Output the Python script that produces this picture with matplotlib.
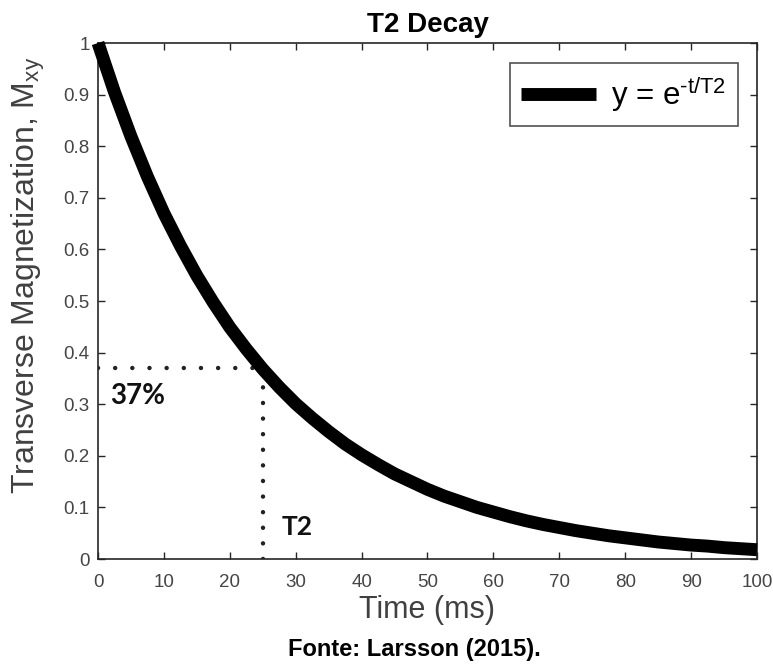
import matplotlib
matplotlib.use("Agg")
import matplotlib.pyplot as plt

# Data
time_ms = [0, 2.5, 5, 7.5, 10, 12.5, 15, 17.5, 20, 22.5, 25, 27.5, 30, 32.5, 35, 37.5,
           40, 42.5, 45, 47.5, 50, 52.5, 55, 57.5, 60, 62.5, 65, 67.5, 70, 72.5, 75,
           77.5, 80, 82.5, 85, 87.5, 90, 92.5, 95, 97.5, 100]
mxy = [1.000, 0.905, 0.819, 0.741, 0.670, 0.607, 0.549, 0.497, 0.449, 0.407, 0.368,
       0.333, 0.301, 0.273, 0.247, 0.223, 0.202, 0.183, 0.165, 0.150, 0.135, 0.122,
       0.111, 0.100, 0.091, 0.082, 0.074, 0.067, 0.061, 0.055, 0.050, 0.045, 0.041,
       0.037, 0.033, 0.030, 0.027, 0.025, 0.022, 0.020, 0.018]
t2_time = 25
t2_level = 0.37
xticks = [0, 10, 20, 30, 40, 50, 60, 70, 80, 90, 100]
yticks = [0, 0.1, 0.2, 0.3, 0.4, 0.5, 0.6, 0.7, 0.8, 0.9, 1]
ytick_labels = ["0", "0.1", "0.2", "0.3", "0.4", "0.5", "0.6", "0.7", "0.8", "0.9", "1"]

plt.rcParams['font.family'] = ['Liberation Sans', 'DejaVu Sans']
plt.rcParams['mathtext.fontset'] = 'custom'
plt.rcParams['mathtext.rm'] = 'Liberation Sans'

fig = plt.figure(figsize=(7.73, 6.64), dpi=100)
ax = fig.add_axes([0.12678, 0.15813, 0.85252, 0.77711])

ax.plot(time_ms, mxy, color='black', lw=9.3, solid_capstyle='butt', solid_joinstyle='round',
        label='y = e$^{\\mathregular{\u2010t/T2}}$', zorder=3, clip_on=False)

ax.plot([0, t2_time], [t2_level, t2_level], linestyle=(0, (0.01, 3.85)), color='#222222',
        lw=3.2, dash_capstyle='round', zorder=2)
ax.plot([t2_time, t2_time], [0, t2_level], linestyle=(0, (0.01, 3.5)), color='#222222',
        lw=3.2, dash_capstyle='round', zorder=2)

ax.text(1.8, 0.316, '37%', fontsize=20, fontweight='bold', family=['Lato', 'DejaVu Sans'],
        ha='left', va='center', color='#111111')
ax.text(27.9, 0.062, 'T2', fontsize=19, fontweight='bold', family=['Lato', 'DejaVu Sans'],
        ha='left', va='center', color='#111111')

ax.set_xlim(0, 100)
ax.set_ylim(0, 1)
ax.set_xticks(xticks)
ax.set_yticks(yticks)
ax.set_yticklabels(ytick_labels)
ax.tick_params(direction='in', length=5, width=1, top=True, right=True, labelsize=13.5,
               labelcolor='#454545', color='#262626')
ax.tick_params(axis='x', pad=11)
ax.tick_params(axis='y', pad=6)
for s in ax.spines.values():
    s.set_color('#262626')
    s.set_linewidth(1.2)

ax.set_xlabel('Time (ms)', fontsize=22, color='#404040')
ax.xaxis.set_label_coords(0.5, -0.0698)
ax.set_ylabel(r'Transverse Magnetization, M$_{\mathregular{xy}}$', fontsize=23,
              color='#404040')
ax.yaxis.set_label_coords(-0.078, 0.55)
ax.set_title('T2 Decay', fontsize=20, fontweight='bold', pad=8)

leg = ax.legend(loc='upper right', fontsize=22.5, frameon=True, fancybox=False,
                handlelength=2.37, handletextpad=0.5, borderpad=0.38, borderaxespad=0,
                bbox_to_anchor=(0.971, 0.961))
leg.get_frame().set_edgecolor('#262626')
leg.get_frame().set_linewidth(1.2)

fig.text(0.536, 0.022, 'Fonte: Larsson (2015).', ha='center', va='center', fontsize=17,
         fontweight='bold')

fig.savefig('out.png', dpi=100)
